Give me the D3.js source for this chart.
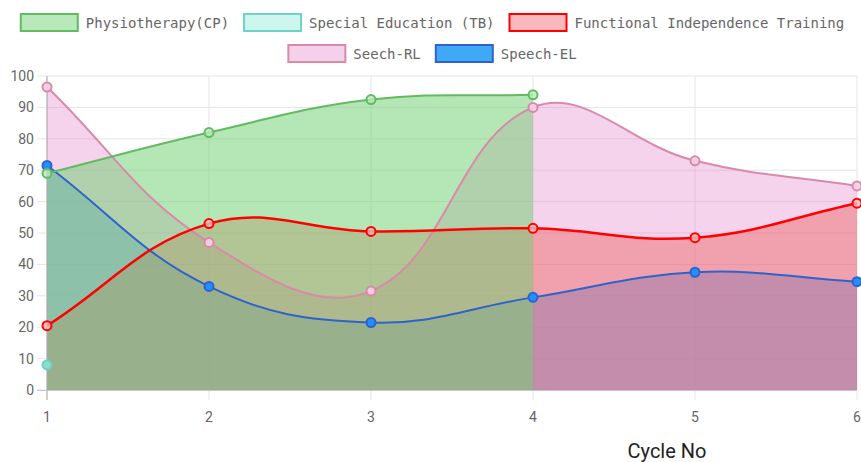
<!DOCTYPE html>
<html>
<head>
<meta charset="utf-8">
<script src="https://cdn.jsdelivr.net/npm/d3@7"></script>
<style>
    html, body { margin: 0; padding: 0; background: #fff; }
    svg { display: block; }
</style>
</head>
<body>
<div id="chart"></div>
<script>
// values
const cycles = [1, 2, 3, 4, 5, 6];
const yTicks = [0, 10, 20, 30, 40, 50, 60, 70, 80, 90, 100];
const physio = [69, 82, 92.5, 94];
const specialEd = [8];
const functional = [20.5, 53, 50.5, 51.5, 48.5, 59.5];
const speechRL = [96.5, 47, 31.5, 90, 73, 65];
const speechEL = [71.5, 33, 21.5, 29.5, 37.5, 34.5];
const seriesNames = ['Physiotherapy(CP)', 'Special Education (TB)', 'Functional Independence Training', 'Seech-RL', 'Speech-EL'];

const styles = [
    { line: '#62bb62', fill: 'rgba(115,208,115,0.53)', legendFill: '#b9e8b9', point: 'rgba(185,232,185,0.8)', width: 2 },
    { line: '#6dd2c4', fill: 'rgba(120,230,215,0.35)', legendFill: '#cdf6ef', point: '#8fdccf', width: 2 },
    { line: '#ff0000', fill: 'rgba(236,88,79,0.4)', legendFill: '#f9b8bc', point: 'rgba(249,184,188,0.8)', width: 2.5 },
    { line: '#d98aa8', fill: 'rgba(230,130,200,0.35)', legendFill: '#f4d0ea', point: 'rgba(244,208,234,0.9)', width: 2 },
    { line: '#2f62cc', fill: 'rgba(63,169,245,0.6)', legendFill: '#3fa9f5', point: '#1e90ff', width: 2 }
];
const allSeries = [physio, specialEd, functional, speechRL, speechEL];

const W = 861, H = 462;
const svg = d3.select('#chart').append('svg').attr('width', W).attr('height', H);

const x = d3.scaleLinear().domain([1, 6]).range([47, 857]);
const y = d3.scaleLinear().domain([0, 100]).range([390, 76]);

// grid
svg.append('g').selectAll('line.h').data(yTicks).enter().append('line')
    .attr('x1', 37).attr('x2', 857)
    .attr('y1', (d) => y(d)).attr('y2', (d) => y(d))
    .attr('stroke', '#e5e5e5').attr('stroke-width', 1);
svg.append('g').selectAll('line.v').data(cycles).enter().append('line')
    .attr('x1', (d) => x(d)).attr('x2', (d) => x(d))
    .attr('y1', 76).attr('y2', 400)
    .attr('stroke', '#e5e5e5').attr('stroke-width', 1);

// chart.js style bezier (tension 0.4)
const splinePath = (vals) => {
    const pts = vals.map((v, i) => ({ x: x(cycles[i]), y: y(v) }));
    const t = 0.4;
    pts.forEach((cur, i) => {
        const prev = pts[i - 1] || cur;
        const next = pts[i + 1] || cur;
        const d01 = Math.hypot(cur.x - prev.x, cur.y - prev.y);
        const d12 = Math.hypot(next.x - cur.x, next.y - cur.y);
        let s01 = d01 / (d01 + d12), s12 = d12 / (d01 + d12);
        if (isNaN(s01)) s01 = 0;
        if (isNaN(s12)) s12 = 0;
        const fa = t * s01, fb = t * s12;
        cur.cpPrev = { x: cur.x - fa * (next.x - prev.x), y: Math.max(76, Math.min(390, cur.y - fa * (next.y - prev.y))) };
        cur.cpNext = { x: cur.x + fb * (next.x - prev.x), y: Math.max(76, Math.min(390, cur.y + fb * (next.y - prev.y))) };
    });
    return pts;
};

const drawCurve = (p, pts) => {
    p.moveTo(pts[0].x, pts[0].y);
    for (let i = 1; i < pts.length; i++) {
        const a = pts[i - 1], b = pts[i];
        p.bezierCurveTo(a.cpNext.x, a.cpNext.y, b.cpPrev.x, b.cpPrev.y, b.x, b.y);
    }
};

// fills first (last dataset at the bottom), then lines and points on top
const fills = svg.append('g');
const lines = svg.append('g');
for (let k = allSeries.length - 1; k >= 0; k--) {
    const vals = allSeries[k];
    const st = styles[k];
    const pts = splinePath(vals);
    if (pts.length > 1) {
        const area = d3.path();
        drawCurve(area, pts);
        area.lineTo(pts[pts.length - 1].x, y(0));
        area.lineTo(pts[0].x, y(0));
        area.closePath();
        fills.append('path').attr('d', area.toString()).attr('fill', st.fill).attr('stroke', 'none');

        const line = d3.path();
        drawCurve(line, pts);
        lines.append('path').attr('d', line.toString())
            .attr('fill', 'none').attr('stroke', st.line).attr('stroke-width', st.width);
    }
    lines.append('g').selectAll('circle').data(vals).enter().append('circle')
        .attr('cx', (d, i) => x(cycles[i]))
        .attr('cy', (d) => y(d))
        .attr('r', 4.5)
        .attr('fill', st.point)
        .attr('stroke', st.line)
        .attr('stroke-width', 2);
}

// axis lines
svg.append('line').attr('x1', 47).attr('x2', 47).attr('y1', 76).attr('y2', 400)
    .attr('stroke', '#aaa').attr('stroke-width', 1);
svg.append('line').attr('x1', 37).attr('x2', 857).attr('y1', 390.5).attr('y2', 390.5)
    .attr('stroke', '#c4c4d4').attr('stroke-width', 1);
lines.raise();

// tick labels
svg.append('g').selectAll('text').data(yTicks).enter().append('text')
    .attr('x', 34).attr('y', (d) => y(d) + 5)
    .attr('text-anchor', 'end')
    .style('font-family', 'Roboto, sans-serif').style('font-size', '14px')
    .attr('fill', '#666')
    .text((d) => d);
svg.append('g').selectAll('text').data(cycles).enter().append('text')
    .attr('x', (d) => x(d)).attr('y', 422)
    .attr('text-anchor', 'middle')
    .style('font-family', 'Roboto, sans-serif').style('font-size', '14px')
    .attr('fill', '#666')
    .text((d) => d);

svg.append('text').attr('x', 667).attr('y', 458)
    .attr('text-anchor', 'middle')
    .style('font-family', 'Roboto, sans-serif').style('font-size', '20px')
    .attr('fill', '#222')
    .text('Cycle No');

// legend, two centred rows
const legendRows = [[0, 1, 2], [3, 4]];
const boxW = 57, boxH = 17;
legendRows.forEach((row, r) => {
    const g = svg.append('g');
    let cx = 0;
    row.forEach((k) => {
        const item = g.append('g').attr('transform', `translate(${cx},0)`);
        item.append('rect').attr('x', 1).attr('y', 0).attr('width', boxW).attr('height', boxH)
            .attr('fill', styles[k].legendFill).attr('stroke', styles[k].line).attr('stroke-width', 2);
        const txt = item.append('text').attr('x', boxW + 9).attr('y', boxH / 2 + 5)
            .style('font-family', '"DejaVu Sans Mono", monospace').style('font-size', '14px')
            .attr('fill', '#666').text(seriesNames[k]);
        cx += boxW + 9 + txt.node().getComputedTextLength() + 14;
    });
    const total = cx - 14;
    const top = r === 0 ? 14 : 45;
    g.attr('transform', `translate(${432 - total / 2},${top})`);
});
</script>
</body>
</html>
